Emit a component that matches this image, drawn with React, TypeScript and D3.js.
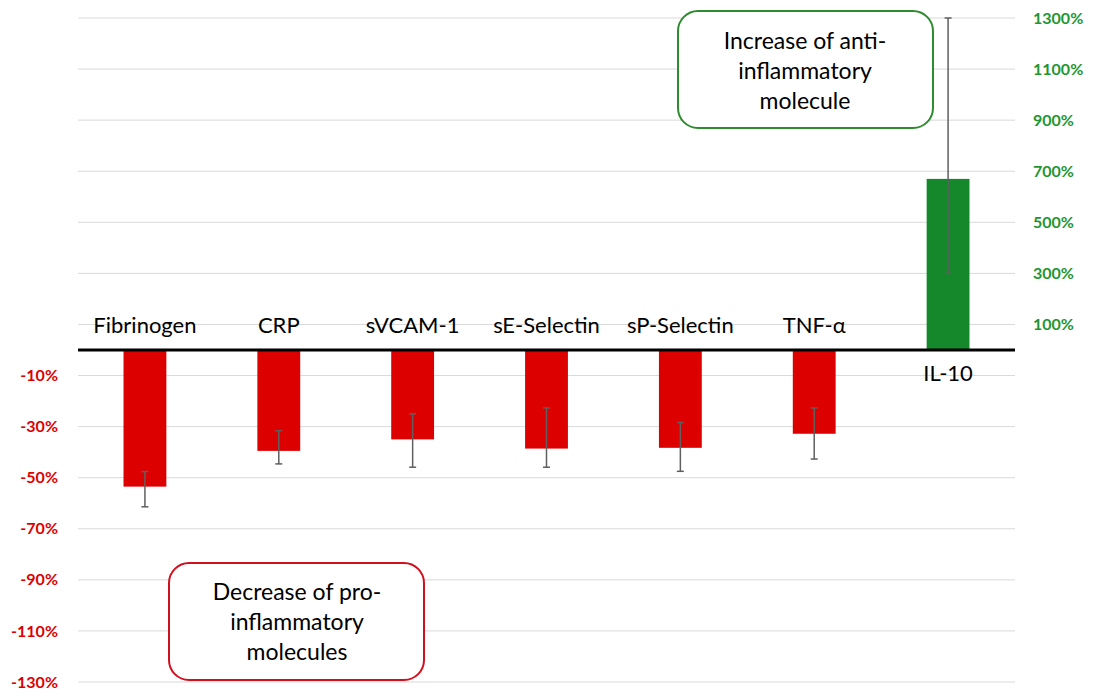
import React from 'react'
import * as d3 from 'd3'

// data
const categories = ['Fibrinogen', 'CRP', 'sVCAM-1', 'sE-Selectin', 'sP-Selectin', 'TNF-α', 'IL-10']
const changes = [-53.5, -39.5, -35, -38.6, -38.3, -32.8, 670]
const errLow = [-61.4, -44.6, -45.9, -45.9, -47.5, -42.7, 300]
const errHigh = [-47.6, -31.6, -25, -22.7, -28.4, -22.7, 1300]
const axisSide = ['left', 'left', 'left', 'left', 'left', 'left', 'right']
const leftTicks = [-10, -30, -50, -70, -90, -110, -130]
const rightTicks = [100, 300, 500, 700, 900, 1100, 1300]
const gridTicks = d3.range(-130, 131, 20)

const W = 1094
const H = 692
const FONT = 'Lato, "Open Sans", sans-serif'
const RED = '#DD0000'
const GREEN = '#14882A'
const GREEN_TXT = '#1E9630'

const App = () => {
  const left = 78
  const right = 1015
  const top = 18
  const bottom = 682

  // two value axes crossing at zero
  const yLeft = d3.scaleLinear().domain([-130, 130]).range([bottom, top])
  const yRight = d3.scaleLinear().domain([-1300, 1300]).range([bottom, top])
  const x = d3
    .scaleBand()
    .domain(categories)
    .range([left, right])
    .paddingInner(0.68)
    .paddingOuter(0.34)
  const y = (i: number, v: number) => (axisSide[i] === 'right' ? yRight(v) : yLeft(v))
  const zero = yLeft(0)

  return (
    <svg width={W} height={H} style={{ position: 'absolute', left: 0, top: 0, background: '#fff' }} fontFamily={FONT}>
      {/* gridlines */}
      {gridTicks.map((t) => (
        <line key={t} x1={left} x2={right} y1={yLeft(t)} y2={yLeft(t)} stroke="#D9D9D9" strokeWidth={1} />
      ))}

      {/* left axis labels */}
      {leftTicks.map((t) => (
        <text key={t} x={58} y={yLeft(t)} dy="0.35em" textAnchor="end" fontSize={16} fontWeight="bold" fill={RED}>
          {t}%
        </text>
      ))}
      {/* right axis labels */}
      {rightTicks.map((t) => (
        <text key={t} x={1033} y={yRight(t)} dy="0.35em" textAnchor="start" fontSize={16} fontWeight="bold" fill={GREEN_TXT}>
          {t}%
        </text>
      ))}

      {/* bars */}
      {categories.map((c, i) => {
        const v = changes[i]
        const y0 = y(i, v)
        return (
          <rect
            key={c}
            x={x(c)}
            y={Math.min(y0, zero)}
            width={x.bandwidth()}
            height={Math.abs(y0 - zero)}
            fill={v < 0 ? RED : GREEN}
          />
        )
      })}

      {/* error bars */}
      {categories.map((c, i) => {
        const cx = (x(c) as number) + x.bandwidth() / 2
        const y1 = y(i, errLow[i])
        const y2 = y(i, errHigh[i])
        return (
          <g key={c} stroke="#5F5F5F" strokeWidth={1.5}>
            <line x1={cx} x2={cx} y1={y1} y2={y2} />
            <line x1={cx - 3.5} x2={cx + 3.5} y1={y1} y2={y1} />
            <line x1={cx - 3.5} x2={cx + 3.5} y1={y2} y2={y2} />
          </g>
        )
      })}

      {/* zero line */}
      <line x1={left} x2={right} y1={zero} y2={zero} stroke="#000" strokeWidth={3} />

      {/* category labels */}
      {categories.map((c, i) => {
        const cx = (x(c) as number) + x.bandwidth() / 2
        const ly = changes[i] < 0 ? zero - 25 : zero + 23
        return (
          <text key={c} x={cx} y={ly} dy="0.35em" textAnchor="middle" fontSize={22} fill="#000">
            {c}
          </text>
        )
      })}

      {/* callout boxes */}
      <rect x={678} y={11} width={255} height={117} rx={20} fill="#fff" stroke="#2E8B2E" strokeWidth={2} />
      {['Increase of anti-', 'inflammatory', 'molecule'].map((s, k) => (
        <text key={s} x={805} y={41 + k * 30} dy="0.35em" textAnchor="middle" fontSize={23} fill="#000">
          {s}
        </text>
      ))}
      <rect x={169} y={563} width={255} height={117} rx={20} fill="#fff" stroke="#D0101E" strokeWidth={2} />
      {['Decrease of pro-', 'inflammatory', 'molecules'].map((s, k) => (
        <text key={s} x={297} y={592 + k * 30} dy="0.35em" textAnchor="middle" fontSize={23} fill="#000">
          {s}
        </text>
      ))}
    </svg>
  )
}

export default App
